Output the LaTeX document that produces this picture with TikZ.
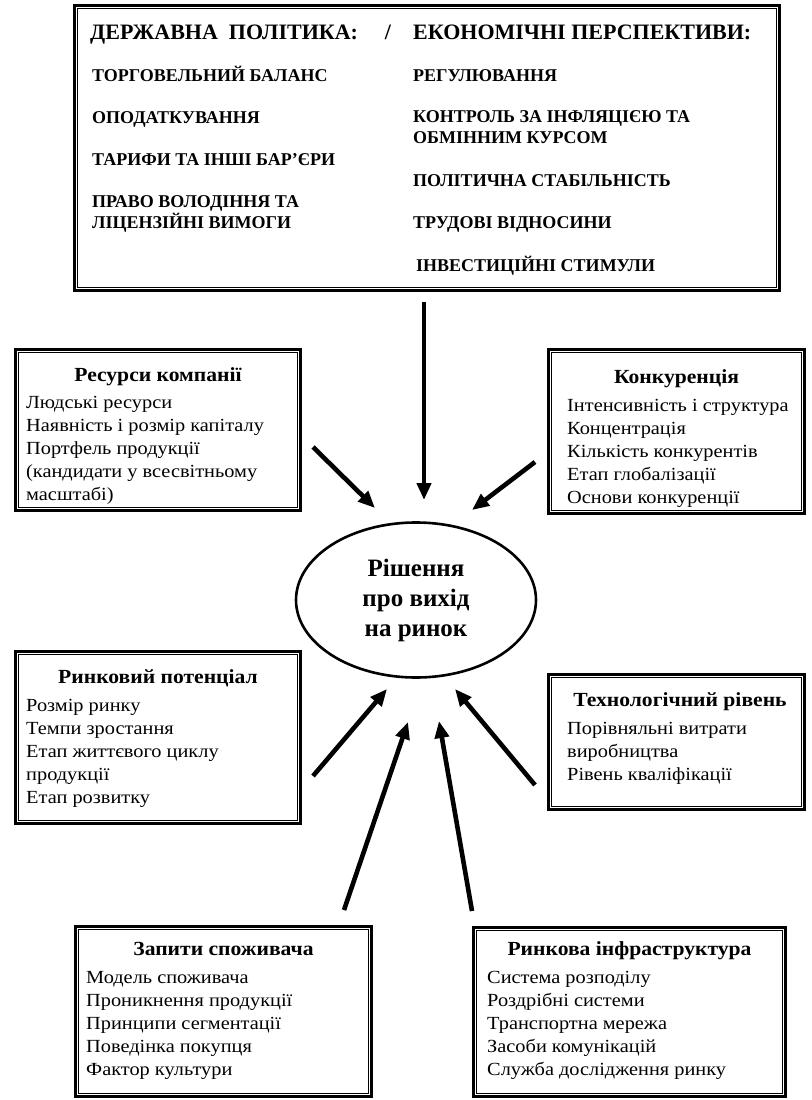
\documentclass[tikz,border=0pt]{standalone}
\usepackage{fontspec}
\setmainfont{Liberation Serif}
\newfontfamily\titlefont[FakeStretch=1.08]{Liberation Serif Bold}
\newfontfamily\bodyfont[FakeStretch=1.1]{Liberation Serif}
\usetikzlibrary{shapes.geometric, arrows.meta, positioning}

\begin{document}
\begin{tikzpicture}[
    x=1pt, y=-1pt,
    panel/.style={rectangle, draw, line width=3.4pt, inner sep=0pt},
    title/.style={font=\titlefont\fontsize{20}{23}\selectfont, inner sep=0pt, anchor=base},
    list/.style={align=left, anchor=north west, inner sep=0pt, font=\bodyfont\fontsize{18.5}{23}\selectfont},
    govhead/.style={font=\bfseries\fontsize{22}{26}\selectfont, anchor=base west, inner sep=0pt},
    govitem/.style={font=\bfseries\fontsize{18}{21}\selectfont, align=left, anchor=base west, inner sep=0pt},
    decision/.style={ellipse, draw, line width=2.6pt, minimum width=240pt, minimum height=155pt, align=center, font=\fontsize{25}{30}\selectfont\bfseries},
    arrow/.style={line width=4.6pt, -{Triangle[length=17pt, width=14pt]}}
]
\useasboundingbox (0,0) rectangle (811,1100);

% ---- verkhnia ramka: derzhavna polityka / ekonomichni perspektyvy ----
\node[panel, minimum width=704.6pt, minimum height=284.6pt] (gov) at (427,148) {};
\node[govhead] (govleft)  at (90,39)  {ДЕРЖАВНА\ \ ПОЛІТИКА:};
\node[govhead, anchor=base] (govslash) at (388,39) {/};
\node[govhead] (govright) at (413,39) {ЕКОНОМІЧНІ ПЕРСПЕКТИВИ:};

\node[govitem] (trade)   at (92,81)  {ТОРГОВЕЛЬНИЙ БАЛАНС};
\node[govitem] (tax)     at (92,123) {ОПОДАТКУВАННЯ};
\node[govitem] (tariff)  at (92,165) {ТАРИФИ ТА ІНШІ БАР’ЄРИ};
\node[govitem] (owner)   at (92,228) {ПРАВО ВОЛОДІННЯ ТА\\ЛІЦЕНЗІЙНІ ВИМОГИ};

\node[govitem] (regul)   at (413,81)  {РЕГУЛЮВАННЯ};
\node[govitem] (inflat)  at (413,143) {КОНТРОЛЬ ЗА ІНФЛЯЦІЄЮ ТА\\ОБМІННИМ КУРСОМ};
\node[govitem] (polit)   at (413,186) {ПОЛІТИЧНА СТАБІЛЬНІСТЬ};
\node[govitem] (labour)  at (413,228) {ТРУДОВІ ВІДНОСИНИ};
\node[govitem] (invest)  at (416,271) {ІНВЕСТИЦІЙНІ СТИМУЛИ};

% ---- tsentr: rishennia ----
\node[decision] (dec) at (416,600) {Рішення\\про вихід\\на ринок};

% ---- bichni ramky ----
\node[panel, minimum width=284.6pt, minimum height=160.6pt] (res)   at (158,430)     {};
\node[panel, minimum width=255.6pt, minimum height=163.6pt] (comp)  at (676.5,431.5) {};
\node[panel, minimum width=284.6pt, minimum height=171.6pt] (mkt)   at (158,737.5)   {};
\node[panel, minimum width=255.6pt, minimum height=134.6pt] (tech)  at (676.5,742)   {};
\node[panel, minimum width=295.6pt, minimum height=169.6pt] (cons)  at (223.5,1011.5) {};
\node[panel, minimum width=311.6pt, minimum height=168.6pt] (infra) at (629.5,1012)  {};

% ---- vnutrishnia tonka liniia kozhnoi ramky ----
\foreach \b in {gov,res,comp,mkt,tech,cons,infra}
  \draw[line width=0.9pt] ([shift={(4.3,4.3)}]\b.north west) rectangle ([shift={(-4.3,-4.3)}]\b.south east);

% ---- zaholovky ----
\node[title] (restitle)   at (158,381)   {Ресурси компанії};
\node[title] (comptitle)  at (676.5,383) {Конкуренція};
\node[title] (mkttitle)   at (158,683)   {Ринковий потенціал};
\node[title] (techtitle)  at (680,706)   {Технологічний рівень};
\node[title] (constitle)  at (223.5,955) {Запити споживача};
\node[title] (infratitle) at (629.5,955) {Ринкова інфраструктура};

% ---- pereliky ----
\node[list] (reslist) at (26,396) {Людські ресурси\\Наявність і розмір капіталу\\Портфель продукції\\(кандидати у всесвітньому\\масштабі)};
\node[list] (complist) at (567,399) {Інтенсивність і структура\\Концентрація\\Кількість конкурентів\\Етап глобалізації\\Основи конкуренції};
\node[list] (mktlist) at (26,699) {Розмір ринку\\Темпи зростання\\Етап життєвого циклу\\продукції\\Етап розвитку};
\node[list] (techlist) at (567,722) {Порівняльні витрати\\виробництва\\Рівень кваліфікації};
\node[list] (conslist) at (86,971) {Модель споживача\\Проникнення продукції\\Принципи сегментації\\Поведінка покупця\\Фактор культури};
\node[list] (infralist) at (487,971) {Система розподілу\\Роздрібні системи\\Транспортна мережа\\Засоби комунікацій\\Служба дослідження ринку};

% ---- kintsi strilok ----
\coordinate (gov-out)   at (424,302);  \coordinate (dec-top)   at (424,500);
\coordinate (res-out)   at (313,447);  \coordinate (dec-nw)    at (375,508);
\coordinate (comp-out)  at (535,462);  \coordinate (dec-ne)    at (472,510);
\coordinate (mkt-out)   at (313,776);  \coordinate (dec-sw)    at (387,689);
\coordinate (cons-out)  at (344,910);  \coordinate (dec-ssw)   at (408,722);
\coordinate (infra-out) at (472,911);  \coordinate (dec-sse)   at (439,721);
\coordinate (tech-out)  at (535,785);  \coordinate (dec-se)    at (455,689);

% ---- strilky do rishennia ----
\draw[arrow] (gov-out)   -- (dec-top);
\draw[arrow] (res-out)   -- (dec-nw);
\draw[arrow] (comp-out)  -- (dec-ne);
\draw[arrow] (mkt-out)   -- (dec-sw);
\draw[arrow] (cons-out)  -- (dec-ssw);
\draw[arrow] (infra-out) -- (dec-sse);
\draw[arrow] (tech-out)  -- (dec-se);

\end{tikzpicture}
\end{document}
